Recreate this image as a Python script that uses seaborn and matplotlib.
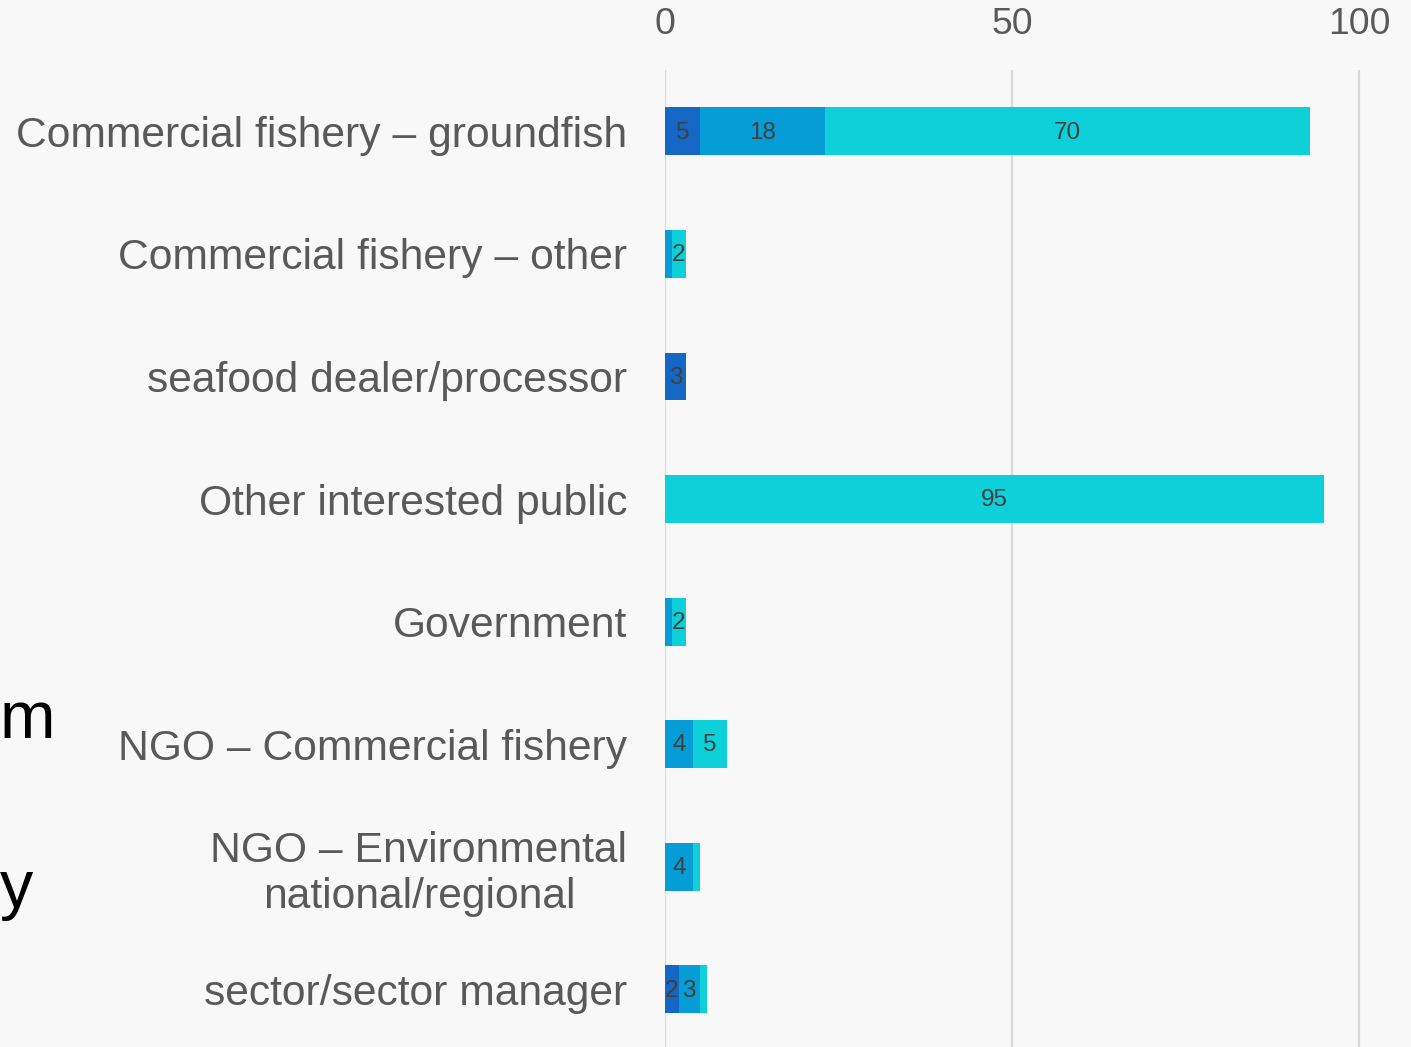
import numpy as np
import pandas as pd
import seaborn as sns
import matplotlib.pyplot as plt

sns.set_theme(style='white')
plt.rcParams['font.family'] = ['Liberation Sans', 'DejaVu Sans']

categories = [
    "Commercial fishery – groundfish",
    "Commercial fishery – other",
    "seafood dealer/processor",
    "Other interested public",
    "Government",
    "NGO – Commercial fishery",
    "NGO – Environmental\nnational/regional",
    "sector/sector manager",
]
dark = [5, 0, 3, 0, 0, 0, 0, 2]
mid = [18, 1, 0, 0, 1, 4, 4, 3]
light = [70, 2, 0, 95, 2, 5, 1, 1]
xticks = [0, 50, 100]

DARK = '#1467c4'
MID = '#069cd6'
LIGHT = '#0dd0d9'
BG = '#f8f8f8'

W, H = 1411, 1047
fig = plt.figure(figsize=(W / 100, H / 100), dpi=100, facecolor=BG)
ax = fig.add_axes([665 / W, 0, 1 - 665 / W, 1 - 70 / H])
ax.set_facecolor(BG)

df = pd.DataFrame({'cat': categories, 'dark': dark, 'mid': mid, 'light': light})
df['c_mid'] = df['dark'] + df['mid']
df['c_all'] = df['c_mid'] + df['light']

for col, color in [('c_all', LIGHT), ('c_mid', MID), ('dark', DARK)]:
    sns.barplot(data=df, x=col, y='cat', color=color, saturation=1, width=0.39,
                orient='h', ax=ax, linewidth=0)

# segment labels
for i, row in df.iterrows():
    left = 0
    for col in ['dark', 'mid', 'light']:
        v = row[col]
        if v >= 2:
            ax.text(left + v / 2, i + 0.01, str(v), ha='center', va='center',
                    fontsize=17.5, color='#404040')
        left += v

ax.set_xlim(0, 107.5)
ax.set_ylim(7.47, -0.5)
ax.xaxis.tick_top()
ax.set_xticks(xticks)
ax.set_xlabel('')
ax.set_ylabel('')
ax.grid(axis='x', color='#d9d9d9', lw=1.6)
ax.grid(axis='y', visible=False)
ax.set_axisbelow(True)
for s in ax.spines.values():
    s.set_visible(False)
ax.tick_params(axis='x', length=0, pad=20, labelsize=26.8, labelcolor='#595959')
ax.tick_params(axis='y', length=0, pad=27, labelsize=30.7, labelcolor='#595959')
for lbl in ax.get_yticklabels():
    lbl.set_multialignment('center')
    lbl.set_linespacing(1.17)

# fragments of slide text at the left edge
fig.text(0, 1 - 738 / H, 'm', ha='left', va='baseline', fontsize=48, color='black')
fig.text(0, 1 - 907 / H, 'y', ha='left', va='baseline', fontsize=48, color='black')

fig.savefig('out.png', dpi=100, facecolor=BG)
